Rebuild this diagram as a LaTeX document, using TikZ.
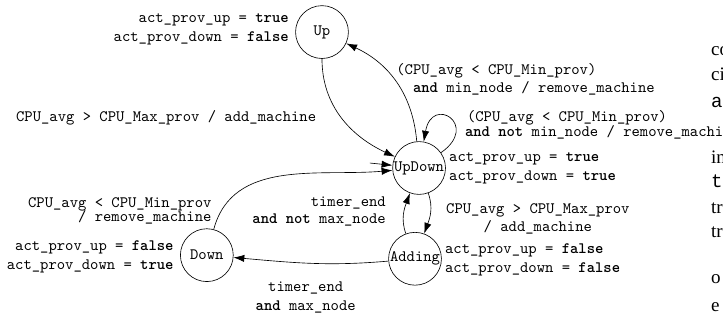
\documentclass[tikz,border=0pt]{standalone}
\usepackage{fontspec}
\newfontfamily\bodyfont{Liberation Serif}
\newfontfamily\bodytt{Liberation Mono}
\usetikzlibrary{arrows,arrows.meta}

\begin{document}
\begin{tikzpicture}[state/.style={draw,circle,minimum size=1.17cm,inner sep=0pt,font=\ttfamily},
    tlabel/.style={font=\ttfamily,inner sep=0pt},
    bodytext/.style={font=\fontsize{12}{14}\bodyfont,inner sep=0pt,anchor=base west},
    >={Latex[length=2.4mm,width=1.6mm]}]
  \useasboundingbox (0,0) rectangle (16.01,-7.09);

  \draw (7.13,-0.71) node[state] (up) {Up};
  \draw (9.28,-3.72) node[state] (updown) {UpDown};
      \coordinate (start) at (8.19,-3.61);
  \draw (9.19,-5.73) node[state] (adding) {Adding};
  \draw (4.58,-5.65) node[state] (down) {Down};

  % outputs of the states
  \draw (6.40,-0.65) node[tlabel,anchor=east,align=right] (upout) {act\_prov\_up = \textbf{true}\\act\_prov\_down = \textbf{false}};
  \draw (9.94,-3.72) node[tlabel,anchor=west,align=left] (updownout) {act\_prov\_up = \textbf{true}\\act\_prov\_down = \textbf{true}};
  \draw (9.85,-5.76) node[tlabel,anchor=west,align=left] (addingout) {act\_prov\_up = \textbf{false}\\act\_prov\_down = \textbf{false}};
  \draw (3.85,-5.69) node[tlabel,anchor=east,align=right] (downout) {act\_prov\_up = \textbf{false}\\act\_prov\_down = \textbf{true}};

  % transition labels
  \draw (0.35,-2.61) node[tlabel,anchor=west] (toupdown) {CPU\_avg > CPU\_Max\_prov / add\_machine};
  \draw (8.77,-1.75) node[tlabel,anchor=west,align=left] (toup) {(CPU\_avg < CPU\_Min\_prov)\\[-0.6pt]\hspace*{10.5pt}\textbf{and} min\_node / remove\_machine};
  \draw (10.29,-2.77) node[tlabel,anchor=west,align=left] (toself) {\hspace*{1.3pt}(CPU\_avg < CPU\_Min\_prov)\\[-2.5pt]\textbf{and not} min\_node / remove\_machine};
  \draw (4.69,-4.67) node[tlabel,anchor=east,align=right] (fromdown) {CPU\_avg < CPU\_Min\_prov\\[-3.2pt]/ remove\_machine};
  \draw (8.55,-4.68) node[tlabel,anchor=east,align=right] (fromadding) {timer\_end\\[-1.3pt]\textbf{and not} max\_node};
  \draw (11.91,-4.85) node[tlabel,align=center] (toadding) {CPU\_avg > CPU\_Max\_prov\\[-0.6pt]/ add\_machine};
  \draw (6.77,-6.59) node[tlabel,align=center] (todown) {timer\_end\\\textbf{and} max\_node};

    \path[->] (start) edge (updown);
    \path[->] (up) edge[out=-90,in=155] (updown);
    \path[->] (updown) edge[out=95,in=-25] (up);
    \path[->] (updown) edge[out=35,in=80,looseness=6] (updown);
    \path[->] (down) edge[out=75,in=185] (updown);
    \path[->] (adding) edge[out=110,in=-110] (updown);
    \path[->] (updown) edge[out=-70,in=70] (adding);
    \path[->] (adding) edge[out=185,in=-5] (down);

  % text of the page beside the figure
  \draw (15.74,-1.22) node[bodytext] (body1) {co};
  \draw (15.74,-1.79) node[bodytext] (body2) {ci};
  \draw (15.74,-2.39) node[bodytext,font=\fontsize{12}{14}\bodytt] (body3) {a};
  \draw (15.74,-3.61) node[bodytext] (body4) {in};
  \draw (15.74,-4.16) node[bodytext,font=\fontsize{12}{14}\bodytt] (body5) {t};
  \draw (15.74,-4.72) node[bodytext] (body6) {tr};
  \draw (15.74,-5.27) node[bodytext] (body7) {tr};
  \draw (15.74,-6.27) node[bodytext] (body8) {o};
  \draw (15.74,-6.89) node[bodytext] (body9) {e};
\end{tikzpicture}
\end{document}
